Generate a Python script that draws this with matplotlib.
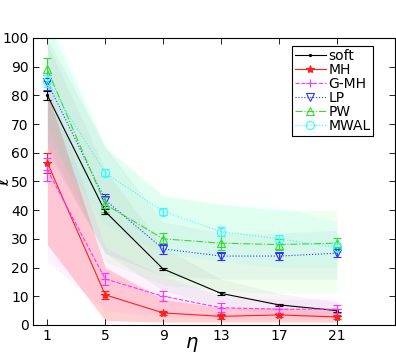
import numpy as np
import matplotlib
matplotlib.use("Agg")
import matplotlib.pyplot as plt
from matplotlib.lines import Line2D

eta = np.array([1, 5, 9, 13, 17, 21])

names = ["soft", "MH", "G-MH", "LP", "PW", "MWAL"]

soft_mean = [80, 39.5, 19.5, 11, 7, 5]
soft_err = [1.5, 1.0, 0.5, 0.4, 0.4, 0.4]
soft_lo = [62, 25, 12, 6, 3.5, 2.5]
soft_hi = [98, 54, 27, 16, 11, 8]

mh_mean = [56.5, 10.5, 4.2, 3.0, 3.5, 2.8]
mh_err = [3.5, 1.5, 0.8, 0.8, 0.8, 0.8]
mh_lo = [28, 1.5, 1, 1, 1, 1]
mh_hi = [81, 20, 9, 6, 6, 5]

gmh_mean = [54, 16, 10, 6, 5.5, 5.5]
gmh_err = [4, 2, 1.8, 1.5, 1.5, 1.5]
gmh_lo = [22, 5, 3, 2, 2, 2]
gmh_hi = [85, 27, 17, 10, 9, 9]

lp_mean = [84.5, 43.5, 26.5, 24, 24, 25]
lp_err = [2.5, 2.0, 1.8, 1.2, 1.2, 1.2]
lp_lo = [60, 25, 17, 16, 16, 16]
lp_hi = [100, 62, 36, 32, 32, 33]

pw_mean = [89, 42, 30, 28.5, 28, 28.5]
pw_err = [4, 2.5, 2.0, 2.5, 2.0, 1.8]
pw_lo = [70, 22, 14, 12, 11, 11]
pw_hi = [105, 62, 45, 42, 40, 40]

mwal_mean = [85, 53, 39.5, 32.5, 30, 27]
mwal_err = [2.0, 1.2, 1.2, 1.5, 1.5, 1.5]
mwal_lo = [65, 35, 25, 22, 20, 20]
mwal_hi = [110, 62, 45, 42, 41, 36]

means = [soft_mean, mh_mean, gmh_mean, lp_mean, pw_mean, mwal_mean]
errs = [soft_err, mh_err, gmh_err, lp_err, pw_err, mwal_err]
los = [soft_lo, mh_lo, gmh_lo, lp_lo, pw_lo, mwal_lo]
his = [soft_hi, mh_hi, gmh_hi, lp_hi, pw_hi, mwal_hi]

colors = ["#000000", "#ff2020", "#ff33ff", "#3333ff", "#33dd33", "#33ffff"]
fills = ["#000000", "#ff0000", "#ff00ff", "#007070", "#00ff00", "#00ffff"]
falpha = [0.04, 0.18, 0.05, 0.05, 0.06, 0.06]
styles = ["-", "-", "--", ":", "-.", ":"]
markers = [".", "*", "+", "v", "^", "o"]

plt.rcParams["font.family"] = "DejaVu Sans"
plt.rcParams["xtick.direction"] = "in"
plt.rcParams["ytick.direction"] = "in"

fig = plt.figure(figsize=(3.96, 3.54), dpi=100)
ax = fig.add_axes([0.083, 0.082, 0.914, 0.811])

for i in range(len(names)):
    ax.fill_between(eta, los[i], his[i], color=fills[i], alpha=falpha[i], lw=0)

handles = []
for i in range(len(names)):
    mfc = colors[i] if markers[i] in [".", "*", "+"] else "none"
    ms = 3 if markers[i] == "." else 6
    ax.errorbar(eta, means[i], yerr=errs[i], color=colors[i], ls=styles[i], lw=0.8,
                marker=markers[i], ms=ms, mfc=mfc, mec=colors[i], mew=0.8,
                capsize=3, elinewidth=0.8)
    handles.append(Line2D([], [], color=colors[i], ls=styles[i], lw=0.8,
                          marker=markers[i], ms=ms, mfc=mfc, mec=colors[i], mew=0.8))

ax.set_xlim(0, 25)
ax.set_ylim(0, 100)
ax.set_xticks(eta)
ax.set_yticks(np.arange(0, 101, 10))
ax.tick_params(top=True, right=True, labelsize=10, length=4, width=0.6, pad=3)
for s in ax.spines.values():
    s.set_linewidth(0.8)
ax.set_xlabel(r"$\eta$", fontsize=14)
ax.xaxis.set_label_coords(0.44, -0.035)
ax.set_ylabel(r"$\ell$", fontsize=14)
ax.yaxis.set_label_coords(-0.055, 0.5)

leg = ax.legend(handles, names, loc="upper right", fontsize=10, labelspacing=0.0,
                handlelength=2.2, handletextpad=0.2, borderpad=0.2, fancybox=False,
                framealpha=1, bbox_to_anchor=(0.96, 0.995), numpoints=1)
leg.get_frame().set_edgecolor("black")
leg.get_frame().set_linewidth(0.8)

fig.savefig("out.png", dpi=100)
